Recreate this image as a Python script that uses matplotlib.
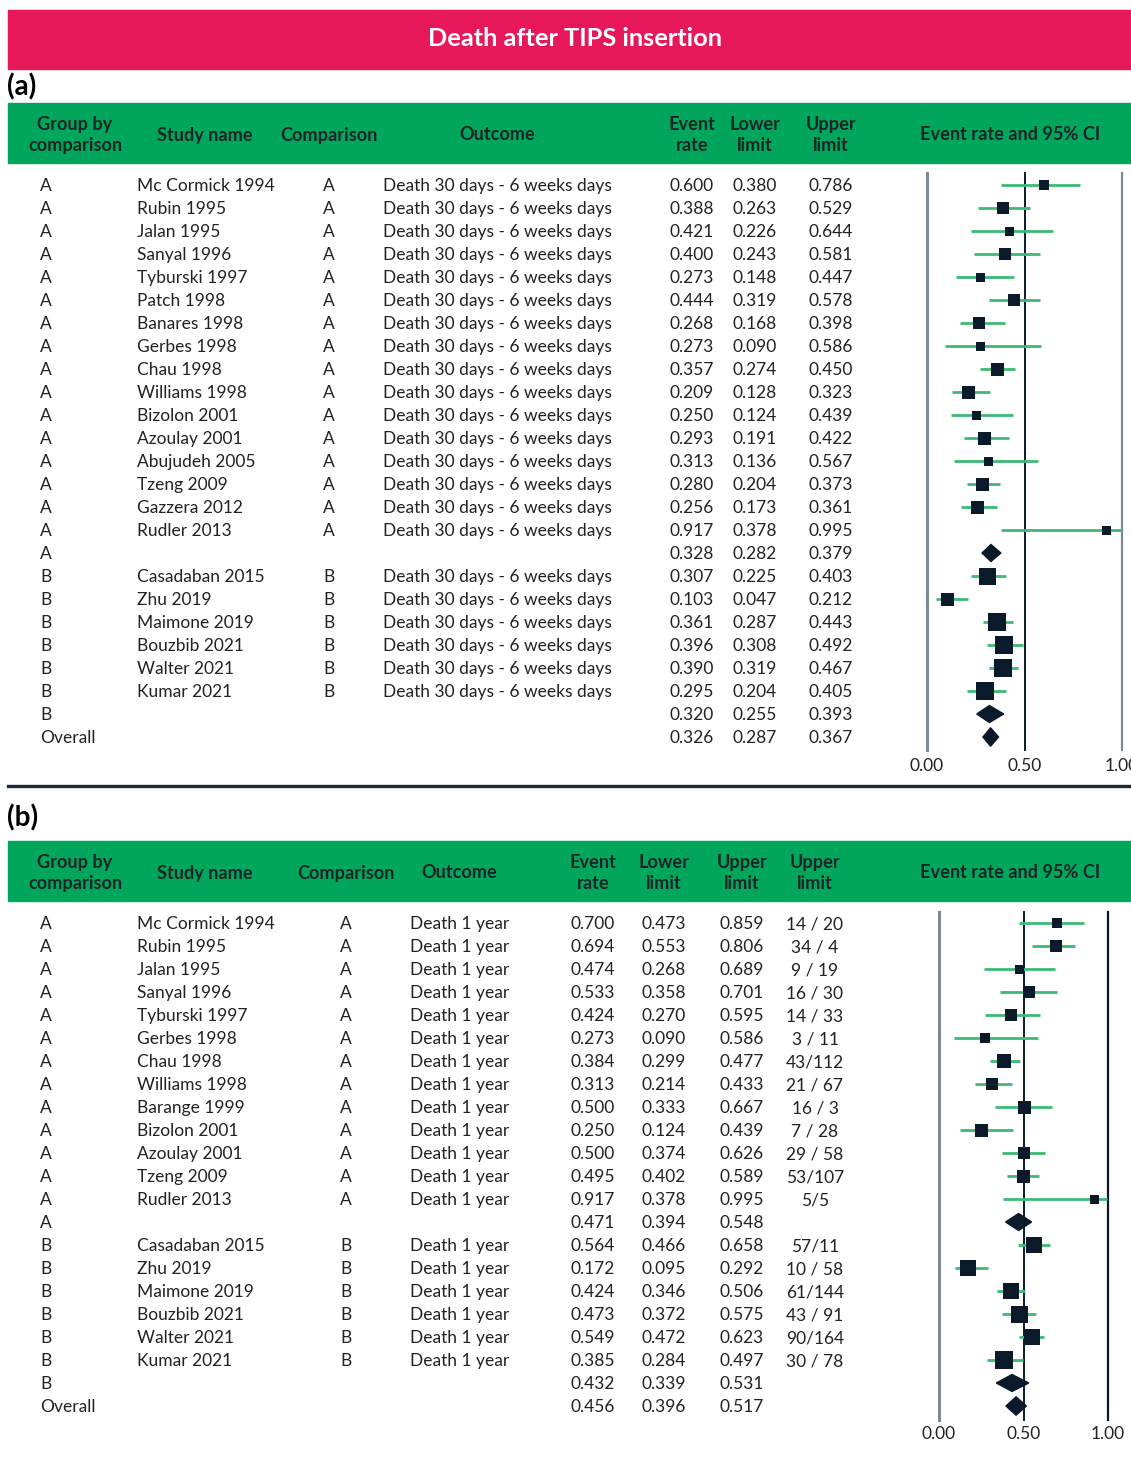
import matplotlib
matplotlib.use("Agg")
import matplotlib.pyplot as plt
from matplotlib.patches import Rectangle, Polygon

# ---------------- DATA ----------------
TITLE = "Death after TIPS insertion"

# Panel (a): Death 30 days - 6 weeks
a_outcome = "Death 30 days - 6 weeks days"
a_studies_A = ["Mc Cormick 1994", "Rubin 1995", "Jalan 1995", "Sanyal 1996", "Tyburski 1997",
               "Patch 1998", "Banares 1998", "Gerbes 1998", "Chau 1998", "Williams 1998",
               "Bizolon 2001", "Azoulay 2001", "Abujudeh 2005", "Tzeng 2009", "Gazzera 2012",
               "Rudler 2013"]
a_rate_A = [0.600, 0.388, 0.421, 0.400, 0.273, 0.444, 0.268, 0.273, 0.357, 0.209,
            0.250, 0.293, 0.313, 0.280, 0.256, 0.917]
a_low_A = [0.380, 0.263, 0.226, 0.243, 0.148, 0.319, 0.168, 0.090, 0.274, 0.128,
           0.124, 0.191, 0.136, 0.204, 0.173, 0.378]
a_up_A = [0.786, 0.529, 0.644, 0.581, 0.447, 0.578, 0.398, 0.586, 0.450, 0.323,
          0.439, 0.422, 0.567, 0.373, 0.361, 0.995]
a_wt_A = [10, 12, 9, 12, 9, 12, 12, 9, 13, 13, 9, 13, 9, 13, 13, 9]
a_sum_A = [0.328, 0.282, 0.379]

a_studies_B = ["Casadaban 2015", "Zhu 2019", "Maimone 2019", "Bouzbib 2021", "Walter 2021", "Kumar 2021"]
a_rate_B = [0.307, 0.103, 0.361, 0.396, 0.390, 0.295]
a_low_B = [0.225, 0.047, 0.287, 0.308, 0.319, 0.204]
a_up_B = [0.403, 0.212, 0.443, 0.492, 0.467, 0.405]
a_wt_B = [17, 13, 18, 18, 18, 18]
a_sum_B = [0.320, 0.255, 0.393]
a_overall = [0.326, 0.287, 0.367]

# Panel (b): Death 1 year
b_outcome = "Death 1 year"
b_studies_A = ["Mc Cormick 1994", "Rubin 1995", "Jalan 1995", "Sanyal 1996", "Tyburski 1997",
               "Gerbes 1998", "Chau 1998", "Williams 1998", "Barange 1999", "Bizolon 2001",
               "Azoulay 2001", "Tzeng 2009", "Rudler 2013"]
b_rate_A = [0.700, 0.694, 0.474, 0.533, 0.424, 0.273, 0.384, 0.313, 0.500, 0.250, 0.500, 0.495, 0.917]
b_low_A = [0.473, 0.553, 0.268, 0.358, 0.270, 0.090, 0.299, 0.214, 0.333, 0.124, 0.374, 0.402, 0.378]
b_up_A = [0.859, 0.806, 0.689, 0.701, 0.595, 0.586, 0.477, 0.433, 0.667, 0.439, 0.626, 0.589, 0.995]
b_cnt_A = ["14 / 20", "34 / 4", "9 / 19", "16 / 30", "14 / 33", "3 / 11", "43/112", "21 / 67",
           "16 / 3", "7 / 28", "29 / 58", "53/107", "5/5"]
b_wt_A = [10, 12, 9, 12, 12, 10, 14, 12, 13, 13, 12, 13, 9]
b_sum_A = [0.471, 0.394, 0.548]

b_studies_B = ["Casadaban 2015", "Zhu 2019", "Maimone 2019", "Bouzbib 2021", "Walter 2021", "Kumar 2021"]
b_rate_B = [0.564, 0.172, 0.424, 0.473, 0.549, 0.385]
b_low_B = [0.466, 0.095, 0.346, 0.372, 0.472, 0.284]
b_up_B = [0.658, 0.292, 0.506, 0.575, 0.623, 0.497]
b_cnt_B = ["57/11", "10 / 58", "61/144", "43 / 91", "90/164", "30 / 78"]
b_wt_B = [16, 16, 16, 17, 16, 18]
b_sum_B = [0.432, 0.339, 0.531]
b_overall = [0.456, 0.396, 0.517]

ticks = [0.0, 0.5, 1.0]
tick_labels = ["0.00", "0.50", "1.00"]

# ---------------- STYLE ----------------
W, H = 1131, 1460
DPI = 100
plt.rcParams['font.family'] = ['Lato', 'DejaVu Sans']
RED = '#e6185a'
GREEN = '#00a65c'
CI_COL = '#3dbb76'
NAVY = '#0b1a2a'
GRAY = '#7d8a94'
TXT = '#222222'
HDR = '#1c2526'
FS = 12.5
HFS = 13.1

fig = plt.figure(figsize=(W / DPI, H / DPI), dpi=DPI)
fig.patch.set_facecolor('white')


def fy(y):
    return 1 - y / H


def fx(x):
    return x / W


# Title bar
fig.patches.append(Rectangle((fx(8), fy(69)), fx(W) - fx(8), (69 - 10) / H,
                             transform=fig.transFigure, color=RED, zorder=0))
fig.text(fx(575), fy(39), TITLE, color='white', fontsize=18.3, fontweight='bold',
         ha='center', va='center')


def panel(label, label_y, hdr_top, hdr_bot, headers, row0, rows, plot_left, plot_right,
          vtop, vbot, tick_y, line_colors, cols):
    fig.text(fx(7), fy(label_y), label, fontsize=20, fontweight='bold', ha='left', va='center',
             color='black')
    fig.patches.append(Rectangle((fx(8), fy(hdr_bot)), fx(W) - fx(8), (hdr_bot - hdr_top) / H,
                                 transform=fig.transFigure, color=GREEN, zorder=0))
    hmid = (hdr_top + hdr_bot) / 2
    for (x, t) in headers:
        fig.text(fx(x), fy(hmid + 2), t, fontsize=HFS, fontweight='bold', color=HDR,
                 ha='center', va='center', linespacing=1.3)

    step = 23.0
    y_top_row = (vtop - row0) / step
    y_bot_row = (vbot - row0) / step
    tax = fig.add_axes([0, fy(vbot), 1, (vbot - vtop) / H])
    tax.set_xlim(0, W)
    tax.set_ylim(y_bot_row, y_top_row)
    tax.axis('off')
    for i, r in enumerate(rows):
        for key, (x, ha) in cols.items():
            val = r.get(key, "")
            if val != "":
                tax.text(x, i + 0.06, val, fontsize=FS, color=TXT, ha=ha, va='center')

    fax = fig.add_axes([fx(plot_left), fy(vbot), (plot_right - plot_left) / W, (vbot - vtop) / H])
    fax.set_xlim(0, 1)
    fax.set_ylim(y_bot_row, y_top_row)
    fax.axis('off')
    lw_lines = [2.2, 1.4, 1.6]
    for t, c, lw in zip(ticks, line_colors, lw_lines):
        fax.axvline(t, color=c, lw=lw, zorder=1, clip_on=False)
    for t, tl in zip(ticks, tick_labels):
        fig.text(fx(plot_left + t * (plot_right - plot_left)), fy(tick_y), tl, fontsize=FS,
                 color=TXT, ha='center', va='center')
    for i, r in enumerate(rows):
        est, lo, hi = r['vals']
        if r['kind'] == 'study':
            fax.plot([lo, hi], [i, i], color=CI_COL, lw=2.0, solid_capstyle='butt', zorder=2,
                     clip_on=False)
            side = r['wt'] * 0.72
            fax.scatter([est], [i], marker='s', s=side ** 2, color=NAVY, zorder=3,
                        linewidths=0, clip_on=False)
        else:
            h = 0.40 if r['kind'] == 'overall' else 0.37
            fax.add_patch(Polygon([[lo, i], [est, i - h], [hi, i], [est, i + h]], closed=True,
                                  color=NAVY, zorder=3, clip_on=False))


def build_rows(studiesA, rateA, lowA, upA, wtA, sumA, studiesB, rateB, lowB, upB, wtB,
               sumB, overall, outcome, cntA=None, cntB=None):
    rows = []
    for k in range(len(studiesA)):
        r = dict(kind='study', g='A', s=studiesA[k], c='A', o=outcome,
                 e=f"{rateA[k]:.3f}", l=f"{lowA[k]:.3f}", u=f"{upA[k]:.3f}",
                 vals=(rateA[k], lowA[k], upA[k]), wt=wtA[k])
        if cntA is not None:
            r['n'] = cntA[k]
        rows.append(r)
    rows.append(dict(kind='sum', g='A', e=f"{sumA[0]:.3f}", l=f"{sumA[1]:.3f}",
                     u=f"{sumA[2]:.3f}", vals=tuple(sumA)))
    for k in range(len(studiesB)):
        r = dict(kind='study', g='B', s=studiesB[k], c='B', o=outcome,
                 e=f"{rateB[k]:.3f}", l=f"{lowB[k]:.3f}", u=f"{upB[k]:.3f}",
                 vals=(rateB[k], lowB[k], upB[k]), wt=wtB[k])
        if cntB is not None:
            r['n'] = cntB[k]
        rows.append(r)
    rows.append(dict(kind='sum', g='B', e=f"{sumB[0]:.3f}", l=f"{sumB[1]:.3f}",
                     u=f"{sumB[2]:.3f}", vals=tuple(sumB)))
    rows.append(dict(kind='overall', g='Overall', e=f"{overall[0]:.3f}", l=f"{overall[1]:.3f}",
                     u=f"{overall[2]:.3f}", vals=tuple(overall)))
    return rows


rows_a = build_rows(a_studies_A, a_rate_A, a_low_A, a_up_A, a_wt_A, a_sum_A,
                    a_studies_B, a_rate_B, a_low_B, a_up_B, a_wt_B, a_sum_B, a_overall, a_outcome)
rows_b = build_rows(b_studies_A, b_rate_A, b_low_A, b_up_A, b_wt_A, b_sum_A,
                    b_studies_B, b_rate_B, b_low_B, b_up_B, b_wt_B, b_sum_B, b_overall, b_outcome,
                    b_cnt_A, b_cnt_B)

headers_a = [(75, "Group by\ncomparison"), (205, "Study name"), (329, "Comparison"),
             (497, "Outcome"), (692, "Event\nrate"), (755, "Lower\nlimit"),
             (831, "Upper\nlimit"), (1010, "Event rate and 95% CI")]
cols_a = {'g': (40, 'left'), 's': (137, 'left'), 'c': (329, 'center'), 'o': (383, 'left'),
          'e': (692, 'center'), 'l': (755, 'center'), 'u': (831, 'center')}
panel("(a)", 87, 103, 163, headers_a, 185, rows_a, 927, 1122, 173, 750, 766,
      [GRAY, NAVY, GRAY], cols_a)

# separator
fig.add_artist(plt.Line2D([fx(8), fx(W)], [fy(786), fy(786)], transform=fig.transFigure,
                          color='#1b2b3b', lw=2.4))

headers_b = [(75, "Group by\ncomparison"), (205, "Study name"), (346, "Comparison"),
             (459, "Outcome"), (593, "Event\nrate"), (664, "Lower\nlimit"),
             (742, "Upper\nlimit"), (815, "Upper\nlimit"), (1010, "Event rate and 95% CI")]
cols_b = {'g': (40, 'left'), 's': (137, 'left'), 'c': (346, 'center'), 'o': (410, 'left'),
          'e': (593, 'center'), 'l': (664, 'center'), 'u': (742, 'center'), 'n': (815, 'center')}
panel("(b)", 818, 841, 901, headers_b, 923, rows_b, 939, 1108, 912, 1420, 1434,
      [GRAY, NAVY, NAVY], cols_b)

fig.savefig("out.png", dpi=DPI, facecolor='white')
